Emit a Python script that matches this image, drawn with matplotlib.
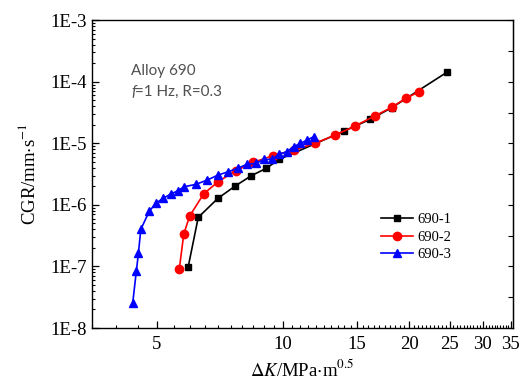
import matplotlib
matplotlib.use("Agg")
import matplotlib.pyplot as plt
from matplotlib.ticker import MultipleLocator, FixedLocator, FuncFormatter, LogLocator, NullFormatter
from matplotlib.transforms import offset_copy

plt.rcParams['font.family'] = ['Liberation Serif', 'DejaVu Serif']
plt.rcParams['mathtext.fontset'] = 'stix'

k1 = [5.94, 6.28, 7.0, 7.69, 8.40, 9.12, 9.80, 14.0, 16.13, 18.17, 24.6]
c1 = [9.7e-8, 6.27e-7, 1.28e-6, 2.02e-6, 2.97e-6, 3.92e-6, 5.48e-6, 1.58e-5, 2.44e-5, 3.77e-5, 1.42e-4]

k2 = [5.66, 5.80, 5.99, 6.47, 7.0, 7.71, 8.50, 9.45, 10.62, 11.9, 13.33, 14.88, 16.58, 18.17, 19.63, 21.12]
c2 = [9.2e-8, 3.36e-7, 6.58e-7, 1.51e-6, 2.37e-6, 3.58e-6, 4.9e-6, 6.27e-6, 7.76e-6, 9.96e-6,
      1.36e-5, 1.92e-5, 2.79e-5, 3.83e-5, 5.36e-5, 6.86e-5]

k3 = [4.38, 4.47, 4.52, 4.58, 4.80, 4.99, 5.18, 5.40, 5.61, 5.81, 6.19, 6.60, 7.00, 7.40, 7.80,
      8.19, 8.61, 9.01, 9.40, 9.80, 10.2, 10.6, 11.0, 11.43, 11.84]
c3 = [2.52e-8, 8.5e-8, 1.63e-7, 4.0e-7, 7.93e-7, 1.08e-6, 1.28e-6, 1.50e-6, 1.69e-6, 1.97e-6,
      2.15e-6, 2.53e-6, 3.05e-6, 3.45e-6, 3.92e-6, 4.54e-6, 4.72e-6, 5.48e-6, 5.48e-6, 6.68e-6,
      7.28e-6, 8.77e-6, 9.95e-6, 1.13e-5, 1.28e-5]

labels = ['690-1', '690-2', '690-3']
xticks = [5, 10, 15, 20, 25, 30, 35]
yticks = [1e-8, 1e-7, 1e-6, 1e-5, 1e-4, 1e-3]
ytick_labels = ['1E-8', '1E-7', '1E-6', '1E-5', '1E-4', '1E-3']

fig = plt.figure(figsize=(5.31, 3.88), dpi=100)
ax = fig.add_axes([0.173, 0.1546, 0.793, 0.7934])

ax.plot(k1, c1, '-s', color='black', lw=1.2, ms=5, label=labels[0])
ax.plot(k2, c2, '-o', color='red', lw=1.2, ms=6, label=labels[1])
ax.plot(k3, c3, '-^', color='blue', lw=1.2, ms=6, label=labels[2])

ax.set_xscale('log')
ax.set_yscale('log')
ax.set_xlim(3.5, 35.4)
ax.set_ylim(1e-8, 1e-3)

ax.xaxis.set_major_locator(FixedLocator(xticks))
ax.xaxis.set_major_formatter(FuncFormatter(lambda v, p: f"{v:g}"))
ax.xaxis.set_minor_locator(MultipleLocator(0.5))
ax.xaxis.set_minor_formatter(NullFormatter())

ax.yaxis.set_major_locator(FixedLocator(yticks))
ax.yaxis.set_major_formatter(FuncFormatter(lambda v, p: ytick_labels[yticks.index(min(yticks, key=lambda t: abs(t - v)))]))
ax.yaxis.set_minor_locator(LogLocator(base=10, subs=range(2, 10), numticks=20))
ax.yaxis.set_minor_formatter(NullFormatter())

ax.tick_params(which='both', direction='in', labelsize=13.5, top=False, right=False)
ax.tick_params(which='major', length=5, width=0.9)
ax.tick_params(which='minor', length=2.5, width=0.8)
ax.tick_params(axis='x', pad=6)

sec = ax.secondary_yaxis('right')
sec.yaxis.set_major_locator(FixedLocator(yticks))
sec.yaxis.set_minor_locator(FixedLocator([10 ** (e + 0.5) for e in range(-8, -3)]))
sec.yaxis.set_major_formatter(NullFormatter())
sec.yaxis.set_minor_formatter(NullFormatter())
sec.tick_params(which='both', direction='in', length=3.5, width=0.8)

for s in ax.spines.values():
    s.set_linewidth(1.0)

ax.set_xlabel(r'$\mathit{\Delta K}$/MPa$\cdot$m$^{0.5}$', fontsize=13.5, labelpad=4)
ax.set_ylabel(r'CGR/mm$\cdot$s$^{-1}$', fontsize=13.5, labelpad=8)

sans = ['Lato', 'DejaVu Sans']
ax.text(0.094, 0.822, 'Alloy 690', transform=ax.transAxes, fontsize=11,
        color='#505050', family=sans)
ax.text(0.094, 0.755, 'f', transform=ax.transAxes, fontsize=11,
        color='#505050', family=sans, style='italic')
ax.text(0.094, 0.755, '=1 Hz, R=0.3',
        transform=offset_copy(ax.transAxes, fig=fig, x=4, y=0, units='dots'),
        fontsize=11, color='#505050', family=sans)

ax.legend(loc='center left', bbox_to_anchor=(0.655, 0.295), frameon=False, fontsize=10.5,
          handlelength=2.2, handletextpad=0.3, labelspacing=0.3)

fig.savefig('out.png', dpi=100)
